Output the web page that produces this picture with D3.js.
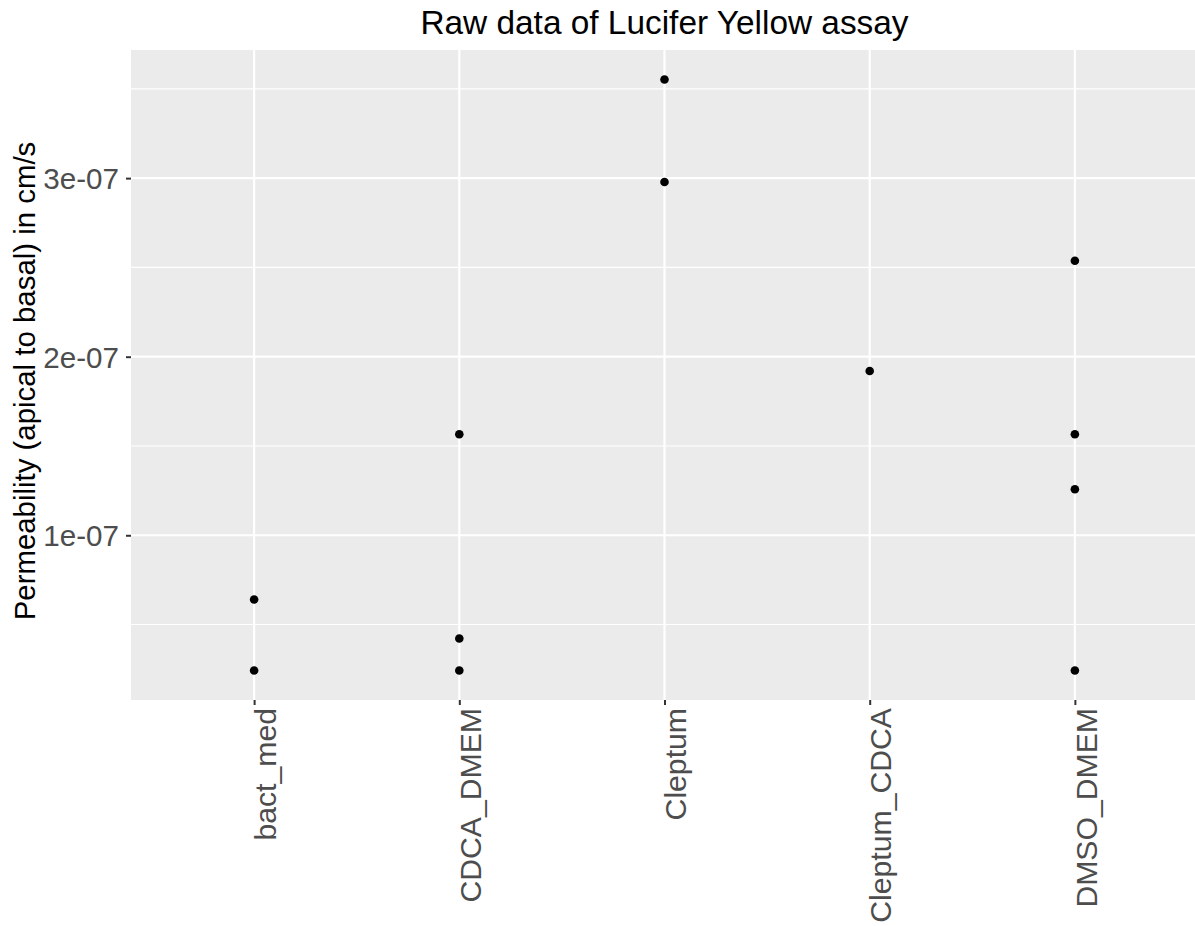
<!DOCTYPE html>
<html>
<head>
<meta charset="utf-8">
<script src="https://cdn.jsdelivr.net/npm/d3@7"></script>
<style>
  html, body { margin: 0; padding: 0; background: #fff; }
  svg { display: block; font-family: "Liberation Sans", Arial, sans-serif; }
</style>
</head>
<body>
<svg id="chart" width="1195" height="926"></svg>
<script>
// Lucifer Yellow permeability measurements, one entry per replicate
const categories = ["bact_med", "CDCA_DMEM", "Cleptum", "Cleptum_CDCA", "DMSO_DMEM"];
const sampleGroup = [
  "bact_med", "bact_med",
  "CDCA_DMEM", "CDCA_DMEM", "CDCA_DMEM",
  "Cleptum", "Cleptum",
  "Cleptum_CDCA",
  "DMSO_DMEM", "DMSO_DMEM", "DMSO_DMEM", "DMSO_DMEM"
];
const permeability = [
  6.4e-8, 2.43e-8,
  1.566e-7, 4.22e-8, 2.43e-8,
  3.552e-7, 2.978e-7,
  1.92e-7,
  2.537e-7, 1.566e-7, 1.258e-7, 2.43e-8
];
const yTicks = [1e-7, 2e-7, 3e-7];
const yTickLabels = ["1e-07", "2e-07", "3e-07"];
const yMinor = [0.5e-7, 1.5e-7, 2.5e-7, 3.5e-7];

const svg = d3.select("#chart");
const panel = { left: 131, right: 1198, top: 50, bottom: 700 };

// discrete x axis: categories at 1..n, expanded by 0.6 on each side
const x = d3.scaleLinear()
  .domain([0.4, categories.length + 0.6])
  .range([panel.left, panel.right]);
const xPos = c => x(categories.indexOf(c) + 1);

// continuous y axis with 5% expansion of the data range
const [lo, hi] = d3.extent(permeability);
const pad = (hi - lo) * 0.05;
const y = d3.scaleLinear()
  .domain([lo - pad, hi + pad])
  .range([panel.bottom, panel.top]);

// panel background
svg.append("rect")
  .attr("x", panel.left).attr("y", panel.top)
  .attr("width", panel.right - panel.left)
  .attr("height", panel.bottom - panel.top)
  .attr("fill", "#EBEBEB");

const grid = svg.append("g");
grid.selectAll("line.minor").data(yMinor.filter(v => y(v) >= panel.top && y(v) <= panel.bottom))
  .join("line").attr("class", "minor")
  .attr("x1", panel.left).attr("x2", panel.right)
  .attr("y1", d => y(d)).attr("y2", d => y(d))
  .attr("stroke", "#fff").attr("stroke-width", 1.1);
grid.selectAll("line.majory").data(yTicks)
  .join("line").attr("class", "majory")
  .attr("x1", panel.left).attr("x2", panel.right)
  .attr("y1", d => y(d)).attr("y2", d => y(d))
  .attr("stroke", "#fff").attr("stroke-width", 2.2);
grid.selectAll("line.majorx").data(categories)
  .join("line").attr("class", "majorx")
  .attr("x1", d => xPos(d)).attr("x2", d => xPos(d))
  .attr("y1", panel.top).attr("y2", panel.bottom)
  .attr("stroke", "#fff").attr("stroke-width", 2.2);

// points
svg.append("g").selectAll("circle")
  .data(permeability.map((v, i) => ({ g: sampleGroup[i], v })))
  .join("circle")
  .attr("cx", d => xPos(d.g))
  .attr("cy", d => y(d.v))
  .attr("r", 4.3)
  .attr("fill", "#000");

// y axis
const yAxis = svg.append("g")
  .attr("transform", `translate(${panel.left},0)`)
  .call(d3.axisLeft(y).tickValues(yTicks)
    .tickFormat((d, i) => yTickLabels[i]).tickSize(5).tickPadding(7));
yAxis.select(".domain").remove();
yAxis.selectAll(".tick line").attr("stroke", "#333").attr("stroke-width", 2);
yAxis.selectAll(".tick text")
  .attr("fill", "#4D4D4D").style("font-size", "29.6px")
  .style("font-family", "'Liberation Sans', Arial, sans-serif")
  .attr("dy", "0.36em");

// x axis
const xAxis = svg.append("g")
  .attr("transform", `translate(0,${panel.bottom})`)
  .call(d3.axisBottom(x).tickValues(categories.map((c, i) => i + 1))
    .tickFormat((d, i) => categories[i]).tickSize(5).tickPadding(0));
xAxis.select(".domain").remove();
xAxis.selectAll(".tick line").attr("stroke", "#333").attr("stroke-width", 2);
xAxis.selectAll(".tick text")
  .attr("fill", "#4D4D4D").style("font-size", "30.2px")
  .style("font-family", "'Liberation Sans', Arial, sans-serif")
  .attr("transform", "rotate(-90)")
  .attr("text-anchor", "end")
  .attr("x", -8).attr("y", 0).attr("dy", "0.7em");

// axis title
svg.append("text")
  .attr("transform", `translate(35,${(panel.top + panel.bottom) / 2 + 6}) rotate(-90)`)
  .attr("text-anchor", "middle")
  .style("font-size", "29.4px").attr("fill", "#000")
  .text("Permeability (apical to basal) in cm/s");

// plot title
svg.append("text")
  .attr("x", (panel.left + panel.right) / 2).attr("y", 34)
  .attr("text-anchor", "middle")
  .style("font-size", "33.4px").attr("fill", "#000")
  .text("Raw data of Lucifer Yellow assay");
</script>
</body>
</html>
